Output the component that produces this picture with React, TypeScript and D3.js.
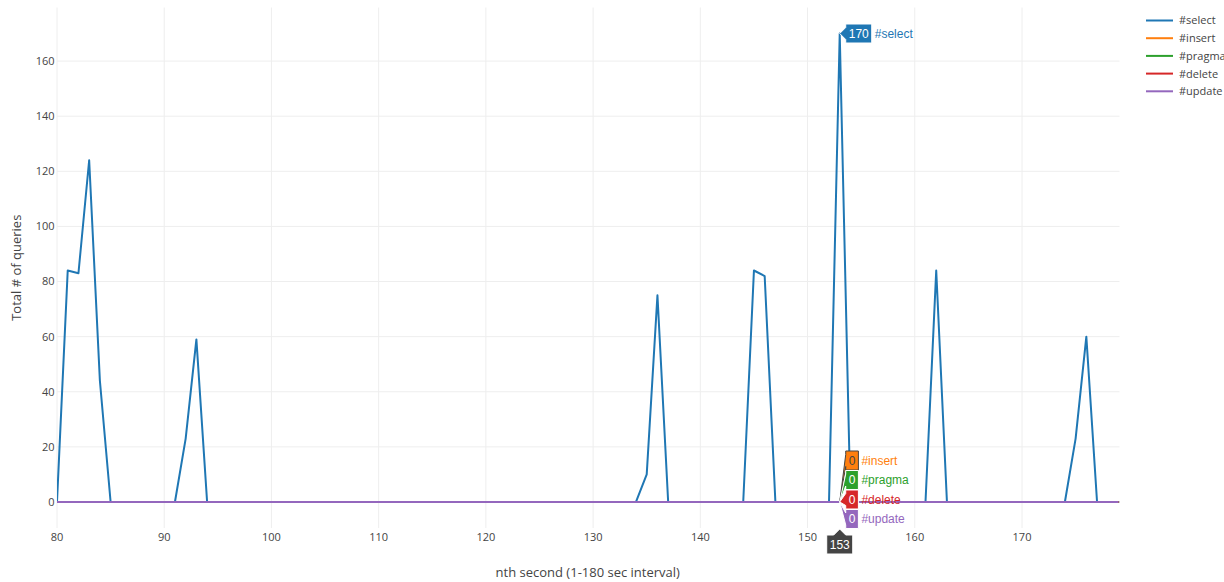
import React from "react";
import * as d3 from "d3";

const firstSecond = 80;
const lastSecond = 179;
const seriesNames = ["#select", "#insert", "#pragma", "#delete", "#update"];
const seriesColors = ["#1f77b4", "#ff7f0e", "#2ca02c", "#d62728", "#9467bd"];

// seconds 80..179
const selectValues = [
  0, 84, 83, 124, 44, 0, 0, 0, 0, 0,
  0, 0, 23, 59, 0, 0, 0, 0, 0, 0,
  0, 0, 0, 0, 0, 0, 0, 0, 0, 0,
  0, 0, 0, 0, 0, 0, 0, 0, 0, 0,
  0, 0, 0, 0, 0, 0, 0, 0, 0, 0,
  0, 0, 0, 0, 0, 10, 75, 0, 0, 0,
  0, 0, 0, 0, 0, 84, 82, 0, 0, 0,
  0, 0, 0, 170, 0, 0, 0, 0, 0, 0,
  0, 0, 84, 0, 0, 0, 0, 0, 0, 0,
  0, 0, 0, 0, 0, 23, 60, 0, 0, 0,
];
const zeroRow = [0, 0, 0, 0, 0, 0, 0, 0, 0, 0];
const insertValues = [...zeroRow, ...zeroRow, ...zeroRow, ...zeroRow, ...zeroRow, ...zeroRow, ...zeroRow, ...zeroRow, ...zeroRow, ...zeroRow];
const pragmaValues = [...zeroRow, ...zeroRow, ...zeroRow, ...zeroRow, ...zeroRow, ...zeroRow, ...zeroRow, ...zeroRow, ...zeroRow, ...zeroRow];
const deleteValues = [...zeroRow, ...zeroRow, ...zeroRow, ...zeroRow, ...zeroRow, ...zeroRow, ...zeroRow, ...zeroRow, ...zeroRow, ...zeroRow];
const updateValues = [...zeroRow, ...zeroRow, ...zeroRow, ...zeroRow, ...zeroRow, ...zeroRow, ...zeroRow, ...zeroRow, ...zeroRow, ...zeroRow];
const allSeries = [selectValues, insertValues, pragmaValues, deleteValues, updateValues];

const xTicks = [80, 90, 100, 110, 120, 130, 140, 150, 160, 170];
const yTicks = [0, 20, 40, 60, 80, 100, 120, 140, 160];
const hoverSecond = 153;

const W = 1224;
const H = 582;
const plotLeft = 57;
const plotRight = 1118.5;
const plotTop = 7.5;
const plotBottom = 528;

const x = d3.scaleLinear().domain([firstSecond, lastSecond]).range([plotLeft, plotRight]);
const y = d3.scaleLinear().domain([-9.44, 179.44]).range([plotBottom, plotTop]);

const tickFont = "'Open Sans', verdana, arial, sans-serif";
const hoverFont = "'Liberation Sans', Arial, sans-serif";

function contrast(c: string) {
  const hsl = d3.hsl(c);
  return hsl.l > 0.5 && c === "#ff7f0e" ? "#444" : "#fff";
}

export default function App() {
  const line = d3
    .line<number>()
    .x((_, i) => x(firstSecond + i))
    .y((v) => y(v));

  const hoverIdx = hoverSecond - firstSecond;
  const px = x(hoverSecond);
  const arrow = 6;
  const boxH = 19;
  const digitW = 6.67;
  // label vertical offsets from their points (layout of stacked hover labels)
  const labelOffsets = [0, -41.5, -22, -2.5, 17];

  return (
    <svg
      width={W}
      height={H}
      style={{ position: "absolute", left: 0, top: 0, background: "#fff" }}
    >
      <defs>
        <clipPath id="plotclip">
          <rect x={plotLeft} y={plotTop} width={plotRight - plotLeft + 1} height={plotBottom - plotTop} />
        </clipPath>
      </defs>
      {/* grid */}
      {xTicks.map((t) => (
        <line key={"gx" + t} x1={x(t)} x2={x(t)} y1={plotTop} y2={plotBottom} stroke="#eee" strokeWidth={1} />
      ))}
      {yTicks.filter((t) => t !== 0).map((t) => (
        <line key={"gy" + t} x1={plotLeft} x2={plotRight + 1} y1={y(t)} y2={y(t)} stroke="#eee" strokeWidth={1} />
      ))}
      <line x1={plotLeft} x2={plotRight + 1} y1={y(0)} y2={y(0)} stroke="#444" strokeWidth={1} />
      {/* tick labels */}
      {yTicks.map((t) => (
        <text key={"ty" + t} x={54.5} y={y(t)} dy="0.36em" textAnchor="end" fontFamily={tickFont} fontSize={11} fill="#444">
          {t}
        </text>
      ))}
      {xTicks.map((t) => (
        <text key={"tx" + t} x={x(t)} y={541} textAnchor="middle" fontFamily={tickFont} fontSize={11} fill="#444">
          {t}
        </text>
      ))}
      {/* axis titles */}
      <text
        transform={`translate(21,${(plotTop + plotBottom) / 2}) rotate(-90)`}
        textAnchor="middle"
        fontFamily={tickFont}
        fontSize={13}
        fill="#444"
      >
        Total # of queries
      </text>
      <text x={(plotLeft + plotRight) / 2} y={577} textAnchor="middle" fontFamily={tickFont} fontSize={13} fill="#444">
        nth second (1-180 sec interval)
      </text>
      {/* lines */}
      <g clipPath="url(#plotclip)">
        {allSeries.map((s, i) => (
          <path key={"s" + i} d={line(s) || ""} fill="none" stroke={seriesColors[i]} strokeWidth={2} strokeLinejoin="round" />
        ))}
      </g>
      {/* legend */}
      {seriesNames.map((n, i) => {
        const ly = 20.5 + i * 17.7;
        return (
          <g key={"lg" + n}>
            <line x1={1146} x2={1173} y1={ly} y2={ly} stroke={seriesColors[i]} strokeWidth={2} />
            <text x={1179} y={ly} dy="0.36em" fontFamily={tickFont} fontSize={11} fill="#444">
              {n}
            </text>
          </g>
        );
      })}
      {/* hover labels */}
      {allSeries.map((s, i) => {
        const v = s[hoverIdx];
        const py = y(v);
        const oy = labelOffsets[i];
        const txt = String(v);
        const w = txt.length * digitW + 6;
        const d =
          `M0,0L${arrow},${arrow + oy}v${boxH / 2 - arrow}h${w}v-${boxH}H${arrow}V${oy - arrow}Z`;
        const fg = contrast(seriesColors[i]);
        return (
          <g key={"hv" + i} transform={`translate(${px},${py})`}>
            <path d={d} fill={seriesColors[i]} stroke={fg} strokeWidth={1} />
            <text x={arrow + w / 2} y={oy} dy="0.35em" textAnchor="middle" fontFamily={hoverFont} fontSize={12} fill={fg}>
              {txt}
            </text>
            <text x={arrow + w + 3} y={oy} dy="0.35em" fontFamily={hoverFont} fontSize={12} fill={seriesColors[i]}>
              {seriesNames[i]}
            </text>
          </g>
        );
      })}
      {(() => {
        const txt = String(hoverSecond);
        const w = txt.length * digitW + 6;
        const d = `M0,0L${arrow},${arrow}H${w / 2}v${boxH}H${-w / 2}V${arrow}H${-arrow}Z`;
        return (
          <g transform={`translate(${px},${plotBottom + 1})`}>
            <path d={d} fill="#444" stroke="#fff" strokeWidth={1} />
            <text x={0} y={arrow + boxH / 2} dy="0.35em" textAnchor="middle" fontFamily={hoverFont} fontSize={12} fill="#fff">
              {txt}
            </text>
          </g>
        );
      })()}
    </svg>
  );
}
